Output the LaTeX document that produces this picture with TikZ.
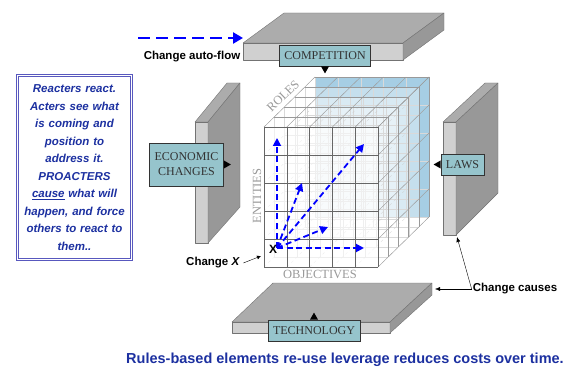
\documentclass[tikz,border=0pt]{standalone}
\usepackage{fontspec}
\setmainfont{Liberation Serif}
\setsansfont{Liberation Sans}
\usepackage{tikz}
\usetikzlibrary{positioning}
\usetikzlibrary{arrows.meta}
\usepackage{xcolor}

\definecolor{tealbox}{RGB}{150,196,204}
\definecolor{slabtop}{RGB}{172,172,172}
\definecolor{slabfront}{RGB}{208,208,208}
\definecolor{slabside}{RGB}{152,152,152}
\definecolor{cubeblue}{RGB}{166,206,228}
\definecolor{notes}{RGB}{28,48,160}
\definecolor{framepurple}{RGB}{88,88,190}

\begin{document}
\begin{tikzpicture}[x=1pt, y=-1pt,
    tag/.style={draw=black!80, thick, fill=tealbox, text=black!80, align=center,
        font=\fontsize{12}{15}\selectfont, inner xsep=5pt, inner ysep=4pt, minimum height=21pt},
    axislabel/.style={text=black!40, font=\fontsize{12.5}{13}\selectfont},
    flow/.style={blue, line width=1.8pt, dash pattern=on 6pt off 3.5pt,
        -{Triangle[length=8pt,width=8pt]}},
    callout/.style={font=\sffamily\bfseries\fontsize{11.5}{13}\selectfont},
    slab/.style={draw=black!55, line join=round}]

    \useasboundingbox (0,0) rectangle (572,371);

    % top slab
    \filldraw[slab, fill=slabtop] (243,43) -- (403,43) -- (444,13) -- (284,13) -- cycle;
    \filldraw[slab, fill=slabfront] (243,43) rectangle (403,60);
    \filldraw[slab, fill=slabside] (403,43) -- (444,13) -- (444,30) -- (403,60) -- cycle;

    % left panel
    \filldraw[slab, fill=slabtop] (195,122) -- (208,122) -- (240,83) -- (227,83) -- cycle;
    \filldraw[slab, fill=slabfront] (195,122) rectangle (208,243);
    \filldraw[slab, fill=slabside] (208,122) -- (240,83) -- (240,207) -- (208,243) -- cycle;

    % right panel
    \filldraw[slab, fill=slabtop] (443,122) -- (456,122) -- (498,83) -- (485,83) -- cycle;
    \filldraw[slab, fill=slabfront] (443,122) rectangle (456,235);
    \filldraw[slab, fill=slabside] (456,122) -- (498,83) -- (498,193) -- (456,235) -- cycle;

    % bottom slab
    \filldraw[slab, fill=slabtop] (232,322) -- (390,322) -- (432,283) -- (273,283) -- cycle;
    \filldraw[slab, fill=slabfront] (232,322) rectangle (390,333);
    \filldraw[slab, fill=slabside] (390,322) -- (432,283) -- (432,295) -- (390,333) -- cycle;

    % cube: back wall and the layers in front of it
    \fill[cubeblue] (315,77) rectangle (429,217);
    \foreach \k in {4,3,2,1}
        \fill[white, opacity=0.35] ({264+10.2*\k},{127-10*\k}) rectangle +(114,140);
    \foreach \k in {1,...,5} {
        \foreach \i in {0,...,5} {
            \draw[gray!30, very thin] ({264+22.8*\i+10.2*\k},{127-10*\k}) -- +(0,140);
            \draw[gray!30, very thin] ({264+10.2*\k},{127+28*\i-10*\k}) -- +(114,0);
        }
    }
    \foreach \i in {0,...,5}
        \foreach \j in {0,...,5}
            \draw[gray!40, very thin, dashed] ({264+22.8*\i},{127+28*\j}) -- +(51,-50);
    \fill[white, opacity=0.6] (264,127) rectangle (378,267);

    % visible faces of the cube
    \foreach \i in {0,...,5} {
        \draw[black!40] ({264+22.8*\i},127) -- +(51,-50);
        \draw[black!40] (378,{127+28*\i}) -- +(51,-50);
    }
    \foreach \k in {1,...,5} {
        \draw[black!40] ({264+10.2*\k},{127-10*\k}) -- +(114,0);
        \draw[black!40] ({378+10.2*\k},{127-10*\k}) -- +(0,140);
    }
    \foreach \i in {0,...,5} {
        \draw[black!60] ({264+22.8*\i},127) -- +(0,140);
        \draw[black!60] (264,{127+28*\i}) -- +(114,0);
    }

    % axis names
    \node[axislabel] (objectives) at (320,274) {OBJECTIVES};
    \node[axislabel, rotate=90] (entities) at (257,196) {ENTITIES};
    \node[axislabel, rotate=44, inner sep=1pt] (roles) at (283,96) {ROLES};

    % change directions from the origin
    \coordinate (o) at (277,248);
    \coordinate (up) at (277,138);
    \coordinate (along) at (364,248);
    \coordinate (steep) at (302,183);
    \coordinate (flat) at (328,227);
    \coordinate (far) at (364,144);
    \draw[flow] (o) -- (up);
    \draw[flow] (o) -- (along);
    \draw[flow] (o) -- (steep);
    \draw[flow] (o) -- (flat);
    \draw[flow] (o) -- (far);
    \node[font=\sffamily\bfseries\fontsize{12}{12}\selectfont, inner sep=0pt] (xmark) at (273,249) {X};

    % drivers around the cube
    \node[tag] (comp) at (325,55.5) {COMPETITION};
    \fill ([xshift=-4pt]comp.south) -- ([xshift=4pt]comp.south) -- ([yshift=-7pt]comp.south) -- cycle;

    \node[tag, minimum height=43pt] (econ) at (186.5,164.5) {ECONOMIC\\CHANGES};
    \fill ([yshift=4pt]econ.east) -- ([yshift=-4pt]econ.east) -- ([xshift=7pt]econ.east) -- cycle;

    \node[tag] (laws) at (462.5,164.5) {LAWS};
    \fill ([yshift=4pt]laws.west) -- ([yshift=-4pt]laws.west) -- ([xshift=-7pt]laws.west) -- cycle;

    \node[tag] (tech) at (314,330.5) {TECHNOLOGY};
    \fill ([xshift=-4pt]tech.north) -- ([xshift=4pt]tech.north) -- ([yshift=7pt]tech.north) -- cycle;

    % callouts
    \coordinate (flowstart) at (138,38);
    \coordinate (flowend) at (243,38);
    \draw[flow, line width=2.6pt, dash pattern=on 12pt off 6pt,
        -{Triangle[length=10pt,width=11pt]}] (flowstart) -- (flowend);
    \node[callout] (autoflow) at (192,57) {Change auto-flow};

    \node[callout] (changex) at (213,263) {Change \textit{X}};
    \coordinate (corner) at (261,256);
    \draw[-{Latex[length=4pt,width=4pt]}] (changex.east) -- (corner);

    \node[callout, inner sep=1pt] (causes) at (515,289) {Change causes};
    \coordinate (lawsfoot) at (457,237);
    \coordinate (techedge) at (435,289);
    \draw[-{Latex[length=5pt,width=4pt]}] (causes.west) -- (lawsfoot);
    \draw[-{Latex[length=5pt,width=4pt]}] (causes.west) -- (techedge);

    % side note
    \node[draw=framepurple, double, double distance=1.3pt, line width=0.7pt,
        text=notes, align=center, text width=110pt, minimum height=184pt, inner sep=2pt,
        font=\sffamily\bfseries\itshape\fontsize{11.5}{17.5}\selectfont] (note) at (74.5,167.5)
        {Reacters react.\\ Acters see what\\ is coming and\\ position to\\ address it.\\ PROACTERS\\
         \underline{cause} what will\\ happen, and force\\ others to react to\\ them..};

    \node[text=notes, font=\sffamily\bfseries\fontsize{14.5}{16}\selectfont] (summary) at (345,360)
        {Rules-based elements re-use leverage reduces costs over time.};
\end{tikzpicture}
\end{document}
